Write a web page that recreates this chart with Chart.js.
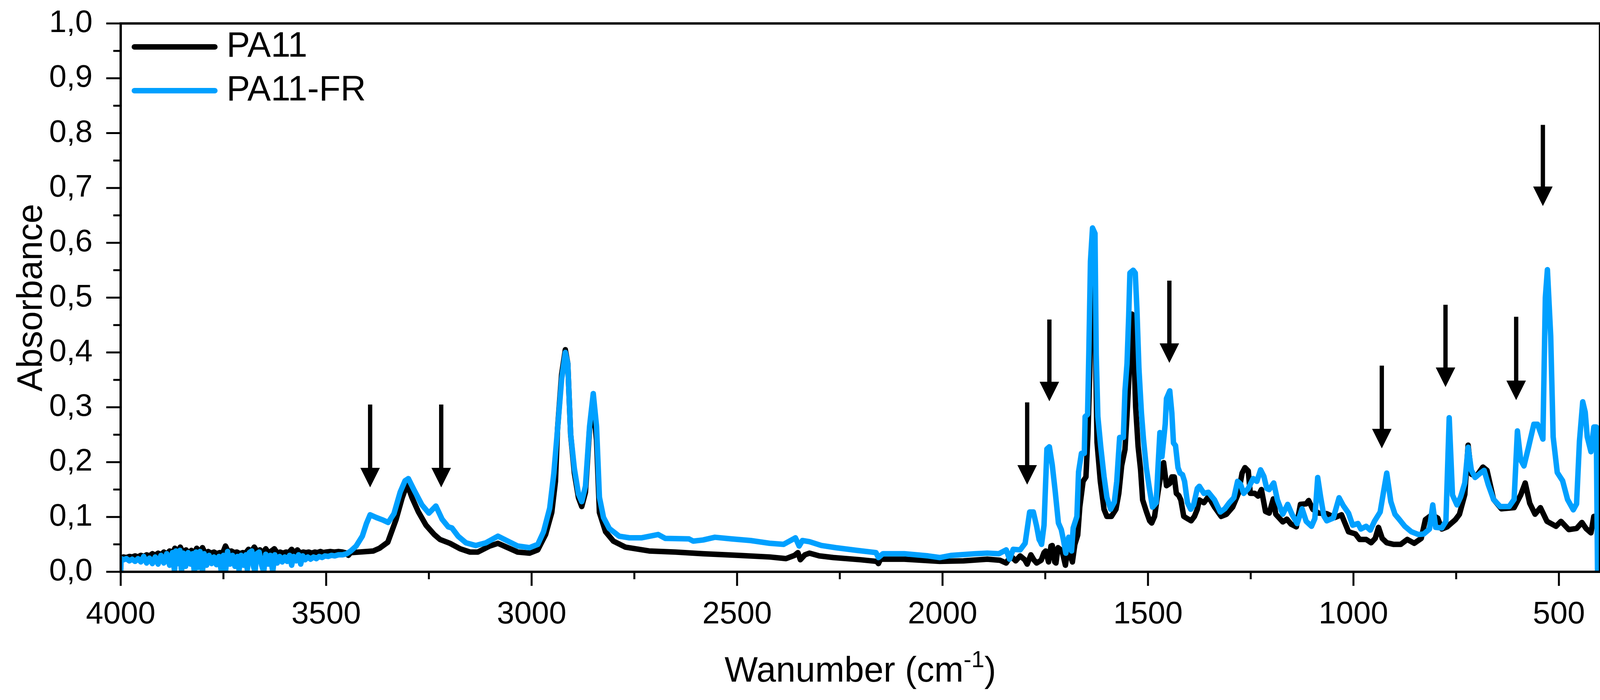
<!DOCTYPE html>
<html>
<head>
<meta charset="utf-8">
<script src="https://cdn.jsdelivr.net/npm/chart.js@4.4.0/dist/chart.umd.min.js"></script>
<style>
  html, body { margin: 0; padding: 0; background: #fff; overflow: hidden; }
  canvas { display: block; }
</style>
</head>
<body>
<canvas id="spectrum" width="4150" height="1791" style="width:4150px;height:1791px"></canvas>
<script>
// wavenumber (cm-1), absorbance
var pa11 = [
  [4000,0.026],[3993,0.027],[3986,0.026],[3979,0.028],[3972,0.027],[3965,0.029],[3958,0.027],[3951,0.030],
  [3944,0.028],[3937,0.031],[3930,0.029],[3923,0.033],[3916,0.030],[3909,0.034],[3902,0.031],[3895,0.036],
  [3888,0.032],[3881,0.038],[3874,0.034],[3868,0.043],[3862,0.033],[3855,0.045],[3848,0.034],[3841,0.040],
  [3835,0.032],[3828,0.039],[3821,0.033],[3815,0.043],[3808,0.034],[3801,0.044],[3794,0.033],[3787,0.037],
  [3780,0.034],[3773,0.036],[3766,0.033],[3759,0.035],[3752,0.034],[3745,0.047],[3738,0.036],[3731,0.038],
  [3724,0.035],[3717,0.036],[3710,0.033],[3703,0.035],[3696,0.034],[3689,0.041],[3682,0.036],[3675,0.045],
  [3668,0.037],[3661,0.040],[3654,0.034],[3647,0.042],[3640,0.034],[3633,0.038],[3626,0.042],[3619,0.034],
  [3612,0.036],[3605,0.034],[3598,0.036],[3591,0.035],[3584,0.041],[3577,0.034],[3570,0.040],[3563,0.034],
  [3556,0.036],[3549,0.035],[3542,0.036],[3535,0.034],[3528,0.036],[3521,0.035],[3514,0.037],[3507,0.035],
  [3500,0.036],[3490,0.037],[3480,0.036],[3470,0.037],[3460,0.036],[3450,0.034],[3446,0.030],[3440,0.035],
  [3420,0.036],[3400,0.037],[3385,0.038],[3370,0.043],[3350,0.054],[3330,0.095],[3315,0.135],[3303,0.160],
  [3291,0.135],[3276,0.110],[3257,0.085],[3237,0.068],[3223,0.059],[3199,0.052],[3174,0.042],[3150,0.036],
  [3131,0.036],[3102,0.047],[3082,0.052],[3058,0.044],[3034,0.036],[3005,0.034],[2985,0.040],[2966,0.068],
  [2951,0.108],[2942,0.165],[2937,0.260],[2927,0.360],[2918,0.405],[2912,0.380],[2905,0.250],[2896,0.180],
  [2886,0.135],[2878,0.119],[2869,0.145],[2859,0.260],[2851,0.310],[2842,0.240],[2835,0.108],[2820,0.073],
  [2801,0.056],[2772,0.045],[2714,0.038],[2650,0.036],[2583,0.033],[2496,0.030],[2420,0.027],[2381,0.024],
  [2360,0.030],[2352,0.035],[2346,0.022],[2335,0.031],[2324,0.034],[2300,0.029],[2266,0.026],[2200,0.022],
  [2160,0.019],[2156,0.015],[2151,0.023],[2093,0.023],[2050,0.021],[2007,0.019],[1949,0.020],[1891,0.023],
  [1860,0.021],[1845,0.016],[1834,0.029],[1822,0.020],[1811,0.029],[1800,0.022],[1794,0.014],[1785,0.031],
  [1778,0.022],[1771,0.016],[1760,0.021],[1753,0.035],[1749,0.038],[1742,0.018],[1736,0.047],[1733,0.048],
  [1727,0.018],[1724,0.016],[1719,0.044],[1709,0.038],[1701,0.012],[1695,0.042],[1690,0.033],[1684,0.018],
  [1678,0.050],[1671,0.067],[1666,0.118],[1658,0.165],[1651,0.173],[1646,0.254],[1642,0.355],[1638,0.520],
  [1635,0.600],[1631,0.560],[1627,0.380],[1624,0.236],[1616,0.165],[1607,0.114],[1600,0.101],[1589,0.101],
  [1578,0.114],[1571,0.143],[1564,0.194],[1556,0.223],[1551,0.287],[1546,0.360],[1542,0.450],[1539,0.470],
  [1535,0.420],[1530,0.300],[1524,0.228],[1518,0.186],[1513,0.131],[1504,0.110],[1496,0.093],[1491,0.089],
  [1484,0.101],[1476,0.143],[1467,0.186],[1462,0.199],[1455,0.157],[1447,0.161],[1442,0.173],[1436,0.173],
  [1431,0.143],[1425,0.139],[1420,0.131],[1413,0.101],[1404,0.097],[1395,0.093],[1387,0.101],[1380,0.114],
  [1375,0.131],[1364,0.126],[1353,0.137],[1338,0.118],[1322,0.101],[1309,0.105],[1294,0.118],[1280,0.143],
  [1271,0.180],[1264,0.190],[1256,0.184],[1251,0.143],[1240,0.143],[1232,0.138],[1224,0.150],[1214,0.110],
  [1205,0.107],[1195,0.133],[1189,0.105],[1172,0.091],[1162,0.096],[1152,0.087],[1139,0.082],[1129,0.123],
  [1115,0.124],[1109,0.130],[1099,0.114],[1085,0.107],[1065,0.106],[1045,0.099],[1029,0.104],[1012,0.073],
  [995,0.069],[985,0.059],[969,0.059],[957,0.053],[947,0.061],[939,0.081],[930,0.061],[919,0.053],
  [902,0.050],[885,0.050],[869,0.059],[852,0.052],[835,0.061],[825,0.095],[809,0.104],[795,0.098],
  [785,0.078],[772,0.082],[752,0.095],[742,0.105],[729,0.141],[721,0.231],[713,0.178],[701,0.174],
  [685,0.191],[675,0.185],[659,0.132],[640,0.115],[609,0.117],[593,0.140],[582,0.162],[571,0.125],
  [558,0.105],[545,0.117],[529,0.092],[507,0.083],[495,0.092],[476,0.077],[457,0.079],[444,0.090],
  [434,0.079],[422,0.071],[415,0.101],[405,0.101]
];

var pa11fr = [
  [4000,0.000],[3999,0.024],[3993,0.022],[3986,0.024],[3979,0.020],[3972,0.023],[3965,0.019],[3958,0.024],
  [3951,0.018],[3944,0.028],[3937,0.016],[3930,0.025],[3923,0.015],[3916,0.027],[3909,0.014],[3902,0.030],
  [3895,0.016],[3888,0.033],[3881,0.012],[3874,0.035],[3869,0.000],[3866,0.038],[3861,0.015],[3856,0.039],
  [3852,0.000],[3848,0.034],[3842,0.010],[3836,0.035],[3830,0.014],[3825,0.033],[3821,0.000],[3817,0.036],
  [3812,0.008],[3807,0.037],[3801,0.000],[3797,0.033],[3791,0.012],[3785,0.030],[3779,0.015],[3773,0.027],
  [3767,0.013],[3761,0.028],[3755,0.000],[3750,0.030],[3745,0.000],[3740,0.037],[3734,0.014],[3728,0.030],
  [3722,0.010],[3716,0.028],[3712,0.003],[3707,0.030],[3701,0.012],[3695,0.031],[3692,0.004],[3687,0.035],
  [3681,0.038],[3677,0.010],[3673,0.000],[3669,0.033],[3663,0.036],[3657,0.012],[3652,0.000],[3647,0.032],
  [3641,0.014],[3636,0.030],[3630,0.000],[3625,0.031],[3619,0.016],[3613,0.028],[3607,0.018],[3601,0.027],
  [3595,0.019],[3589,0.030],[3584,0.012],[3579,0.028],[3573,0.020],[3567,0.031],[3562,0.014],[3557,0.029],
  [3551,0.022],[3545,0.027],[3538,0.023],[3531,0.027],[3524,0.024],[3517,0.028],[3510,0.026],[3503,0.029],
  [3495,0.028],[3487,0.030],[3479,0.029],[3470,0.031],[3460,0.031],[3450,0.033],[3440,0.038],[3427,0.047],
  [3412,0.065],[3402,0.088],[3393,0.104],[3378,0.099],[3364,0.095],[3349,0.090],[3335,0.106],[3320,0.145],
  [3308,0.166],[3300,0.170],[3286,0.149],[3267,0.122],[3250,0.107],[3233,0.120],[3218,0.096],[3203,0.082],
  [3194,0.080],[3179,0.065],[3160,0.053],[3136,0.048],[3111,0.053],[3082,0.065],[3058,0.056],[3034,0.047],
  [3005,0.044],[2985,0.050],[2971,0.073],[2956,0.116],[2946,0.179],[2937,0.259],[2927,0.351],[2918,0.400],
  [2912,0.380],[2905,0.251],[2896,0.188],[2886,0.142],[2878,0.128],[2869,0.156],[2859,0.265],[2850,0.325],
  [2842,0.265],[2835,0.136],[2825,0.099],[2811,0.079],[2787,0.065],[2762,0.062],[2733,0.062],[2692,0.068],
  [2675,0.061],[2617,0.060],[2607,0.056],[2583,0.058],[2554,0.063],[2514,0.060],[2467,0.057],[2421,0.052],
  [2387,0.050],[2358,0.062],[2349,0.047],[2341,0.057],[2324,0.055],[2295,0.048],[2260,0.044],[2208,0.039],
  [2162,0.035],[2156,0.026],[2145,0.033],[2093,0.033],[2035,0.029],[2007,0.026],[1978,0.030],[1920,0.033],
  [1891,0.034],[1863,0.033],[1845,0.040],[1837,0.023],[1828,0.041],[1811,0.040],[1799,0.052],[1788,0.109],
  [1779,0.109],[1771,0.083],[1765,0.059],[1762,0.055],[1759,0.050],[1753,0.085],[1746,0.224],[1740,0.228],
  [1733,0.195],[1726,0.148],[1718,0.089],[1711,0.077],[1706,0.059],[1700,0.034],[1693,0.063],[1686,0.038],
  [1682,0.080],[1673,0.101],[1669,0.182],[1662,0.216],[1655,0.216],[1653,0.283],[1647,0.287],[1644,0.397],
  [1640,0.566],[1635,0.627],[1629,0.617],[1626,0.397],[1622,0.283],[1615,0.228],[1607,0.174],[1600,0.136],
  [1591,0.114],[1582,0.127],[1576,0.165],[1569,0.245],[1560,0.245],[1556,0.330],[1551,0.380],[1547,0.465],
  [1544,0.545],[1536,0.550],[1531,0.545],[1527,0.480],[1522,0.370],[1516,0.290],[1511,0.242],[1504,0.189],
  [1496,0.149],[1489,0.118],[1480,0.126],[1476,0.186],[1471,0.254],[1466,0.210],[1458,0.270],[1455,0.316],
  [1447,0.330],[1442,0.290],[1438,0.235],[1433,0.230],[1427,0.190],[1422,0.180],[1416,0.177],[1411,0.165],
  [1404,0.126],[1396,0.114],[1389,0.122],[1380,0.152],[1375,0.156],[1364,0.143],[1353,0.145],[1338,0.131],
  [1324,0.109],[1313,0.115],[1302,0.126],[1291,0.135],[1282,0.165],[1275,0.160],[1267,0.143],[1256,0.152],
  [1244,0.170],[1235,0.165],[1226,0.186],[1218,0.174],[1211,0.152],[1205,0.150],[1194,0.162],[1185,0.131],
  [1172,0.105],[1160,0.123],[1149,0.104],[1137,0.088],[1125,0.115],[1115,0.092],[1102,0.083],[1094,0.097],
  [1087,0.172],[1080,0.137],[1072,0.102],[1065,0.093],[1049,0.098],[1035,0.135],[1025,0.121],[1012,0.107],
  [1002,0.085],[989,0.088],[982,0.078],[969,0.083],[959,0.076],[949,0.092],[935,0.109],[927,0.145],
  [919,0.180],[909,0.128],[899,0.105],[889,0.096],[875,0.083],[859,0.073],[842,0.068],[829,0.069],
  [815,0.078],[807,0.122],[800,0.081],[785,0.080],[775,0.092],[767,0.281],[759,0.140],[748,0.122],
  [739,0.137],[729,0.162],[721,0.227],[713,0.185],[704,0.172],[691,0.180],[682,0.185],[672,0.159],
  [659,0.132],[643,0.119],[621,0.119],[609,0.132],[601,0.257],[593,0.204],[585,0.193],[574,0.227],
  [561,0.269],[552,0.269],[539,0.242],[533,0.500],[528,0.551],[520,0.430],[514,0.246],[504,0.181],
  [491,0.166],[479,0.132],[465,0.113],[457,0.124],[450,0.238],[442,0.310],[436,0.291],[431,0.246],
  [422,0.219],[415,0.264],[409,0.264],[406,0.000]
];

var xMajor = [4000, 3500, 3000, 2500, 2000, 1500, 1000, 500];
var xMinor = [3750, 3250, 2750, 2250, 1750, 1250, 750];
var yMajor = [0, 0.1, 0.2, 0.3, 0.4, 0.5, 0.6, 0.7, 0.8, 0.9, 1.0];
var yMinor = [0.05, 0.15, 0.25, 0.35, 0.45, 0.55, 0.65, 0.75, 0.85, 0.95];

// arrows: wavenumber, top of shaft, tip (absorbance units)
var arrows = [
  [3393, 0.305, 0.154], [3220, 0.305, 0.154], [1794, 0.309, 0.159], [1740, 0.460, 0.311],
  [1448, 0.531, 0.381], [931, 0.376, 0.225], [776, 0.487, 0.337], [604, 0.465, 0.313],
  [539, 0.815, 0.667]
];

var FONT = '"Liberation Sans", Arial, sans-serif';
var LINE_W = 14;

function toPoints(arr) {
  return arr.map(function (p) { return { x: p[0], y: p[1] }; });
}

var decorations = {
  id: 'decorations',
  afterDraw: function (chart) {
    var ctx = chart.ctx;
    var a = chart.chartArea;
    var xs = chart.scales.x;
    var ys = chart.scales.y;
    ctx.save();

    // arrows
    ctx.fillStyle = '#000';
    ctx.strokeStyle = '#000';
    arrows.forEach(function (ar) {
      var px = xs.getPixelForValue(ar[0]);
      var top = ys.getPixelForValue(ar[1]);
      var tip = ys.getPixelForValue(ar[2]);
      var headLen = 50, headHalf = 25;
      ctx.lineWidth = 11;
      ctx.lineCap = 'butt';
      ctx.beginPath();
      ctx.moveTo(px, top);
      ctx.lineTo(px, tip - headLen + 2);
      ctx.stroke();
      ctx.beginPath();
      ctx.moveTo(px - headHalf, tip - headLen);
      ctx.lineTo(px + headHalf, tip - headLen);
      ctx.lineTo(px, tip);
      ctx.closePath();
      ctx.fill();
    });

    // frame
    ctx.lineWidth = 6;
    ctx.lineCap = 'square';
    ctx.strokeRect(a.left, a.top, a.right - a.left, a.bottom - a.top);

    // tick marks
    ctx.lineWidth = 5;
    ctx.lineCap = 'butt';
    ctx.beginPath();
    xMajor.forEach(function (v) {
      var p = xs.getPixelForValue(v);
      ctx.moveTo(p, a.bottom); ctx.lineTo(p, a.bottom + 36);
    });
    xMinor.forEach(function (v) {
      var p = xs.getPixelForValue(v);
      ctx.moveTo(p, a.bottom); ctx.lineTo(p, a.bottom + 19);
    });
    yMajor.forEach(function (v) {
      var p = ys.getPixelForValue(v);
      ctx.moveTo(a.left, p); ctx.lineTo(a.left - 37, p);
    });
    yMinor.forEach(function (v) {
      var p = ys.getPixelForValue(v);
      ctx.moveTo(a.left, p); ctx.lineTo(a.left - 19, p);
    });
    ctx.stroke();

    // legend
    ctx.lineCap = 'round';
    ctx.lineWidth = 14;
    ctx.font = '90px ' + FONT;
    ctx.textBaseline = 'middle';
    ctx.textAlign = 'left';
    chart.data.datasets.forEach(function (ds, i) {
      var ly = 120 + i * 112;
      ctx.strokeStyle = ds.borderColor;
      ctx.beginPath();
      ctx.moveTo(344, ly); ctx.lineTo(550, ly);
      ctx.stroke();
      ctx.fillStyle = '#000';
      ctx.fillText(ds.label, 580, ly);
    });

    // x title with superscript
    ctx.textBaseline = 'alphabetic';
    ctx.fillStyle = '#000';
    var big = '90px ' + FONT, small = '60px ' + FONT;
    ctx.font = big;
    var w1 = ctx.measureText('Wanumber (cm').width;
    var w3 = ctx.measureText(')').width;
    ctx.font = small;
    var w2 = ctx.measureText('-1').width;
    var cx = (a.left + a.right) / 2;
    var x0 = cx - (w1 + w2 + w3) / 2;
    var base = 1744;
    ctx.font = big;
    ctx.fillText('Wanumber (cm', x0, base);
    ctx.font = small;
    ctx.fillText('-1', x0 + w1, base - 37);
    ctx.font = big;
    ctx.fillText(')', x0 + w1 + w2, base);

    // y title
    ctx.translate(107, (a.top + a.bottom) / 2);
    ctx.rotate(-Math.PI / 2);
    ctx.textAlign = 'center';
    ctx.fillText('Absorbance', 0, 0);
    ctx.restore();
  }
};

new Chart(document.getElementById('spectrum').getContext('2d'), {
  type: 'line',
  data: {
    datasets: [{
      label: 'PA11',
      data: toPoints(pa11),
      borderColor: '#000000',
      borderWidth: LINE_W,
      order: 1
    }, {
      label: 'PA11-FR',
      data: toPoints(pa11fr),
      borderColor: '#00A0FF',
      borderWidth: LINE_W,
      order: 0
    }]
  },
  options: {
    animation: false,
    responsive: false,
    devicePixelRatio: 1,
    layout: { padding: { top: 60, right: 54, left: 0, bottom: 0 } },
    elements: {
      point: { radius: 0 },
      line: { tension: 0, borderWidth: LINE_W, borderJoinStyle: 'round', borderCapStyle: 'round' }
    },
    plugins: { legend: { display: false }, tooltip: { enabled: false } },
    scales: {
      x: {
        type: 'linear',
        reverse: true,
        min: 400,
        max: 4000,
        grid: { display: false },
        border: { display: false },
        afterBuildTicks: function (scale) {
          scale.ticks = xMajor.map(function (v) { return { value: v }; });
        },
        afterFit: function (scale) {
          scale.height = 328;
          scale.paddingLeft = 0;
          scale.paddingRight = 0;
        },
        ticks: {
          autoSkip: false,
          maxRotation: 0,
          padding: 54,
          color: '#000',
          font: { family: FONT, size: 80 },
          callback: function (v) { return String(v); }
        }
      },
      y: {
        min: 0,
        max: 1,
        grid: { display: false },
        border: { display: false },
        afterBuildTicks: function (scale) {
          scale.ticks = yMajor.map(function (v) { return { value: v }; });
        },
        afterFit: function (scale) {
          scale.width = 309;
          scale.paddingTop = 0;
          scale.paddingBottom = 0;
        },
        ticks: {
          padding: 64,
          color: '#000',
          font: { family: FONT, size: 80 },
          callback: function (v) { return v.toFixed(1).replace('.', ','); }
        }
      }
    }
  },
  plugins: [decorations]
});
</script>
</body>
</html>
